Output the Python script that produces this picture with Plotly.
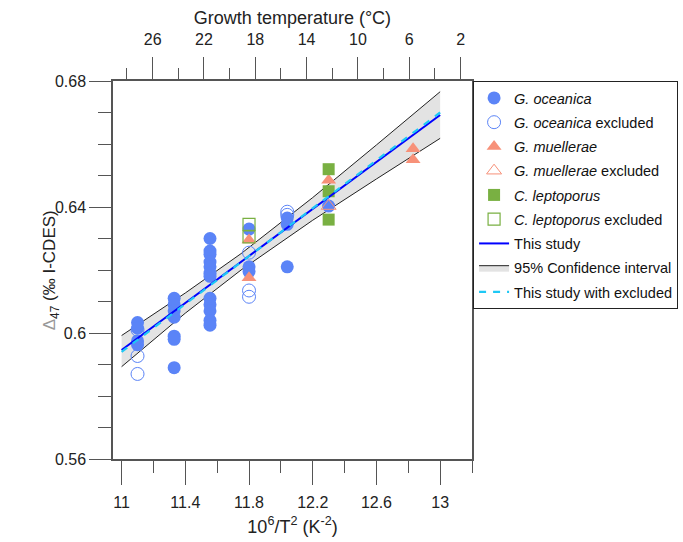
import plotly.graph_objects as go

# ---------------- data ----------------
ocean_x = [11.1, 11.1, 11.1, 11.1,
           11.33, 11.33, 11.33, 11.33, 11.33, 11.33, 11.33,
           11.555, 11.555, 11.555, 11.555, 11.555, 11.555, 11.555, 11.555, 11.555, 11.555, 11.555, 11.555,
           11.8, 11.8, 11.8,
           12.04, 12.04, 12.04,
           12.3]
ocean_y = [0.6033, 0.6015, 0.5975, 0.5963,
           0.611, 0.609, 0.607, 0.605, 0.599, 0.598, 0.589,
           0.630, 0.626, 0.625, 0.6225, 0.621, 0.619, 0.618, 0.611, 0.609, 0.607, 0.604, 0.6025,
           0.633, 0.621, 0.6195,
           0.6365, 0.6345, 0.621,
           0.6403]

ocean_ex_x = [11.1, 11.1, 11.1, 11.8, 11.8, 11.8, 12.04, 12.04]
ocean_ex_y = [0.601, 0.5927, 0.587, 0.6255, 0.6135, 0.6115, 0.6385, 0.6375]

muel_x = [11.8, 11.8, 12.3, 12.83, 12.83]
muel_y = [0.6295, 0.6175, 0.6485, 0.6585, 0.655]

muel_ex_x = [12.3]
muel_ex_y = [0.6403]

lepto_x = [12.3, 12.3, 12.3]
lepto_y = [0.652, 0.645, 0.636]

lepto_ex_x = [11.8, 11.8]
lepto_ex_y = [0.6345, 0.6305]

fit_x = [11.0, 13.0]
fit_y = [0.5946, 0.6692]
fit_ex_y = [0.5940, 0.6700]

band_x = [11.0, 11.4, 11.75, 12.2, 12.6, 13.0]
band_lo = [0.5893, 0.6063, 0.6200, 0.6358, 0.6489, 0.6618]
band_hi = [0.5992, 0.6127, 0.6252, 0.6430, 0.6597, 0.6766]

x_tickvals = [11, 11.4, 11.8, 12.2, 12.6, 13]
x_ticktext = ["11", "11.4", "11.8", "12.2", "12.6", "13"]
y_tickvals = [0.56, 0.60, 0.64, 0.68]
y_ticktext = ["0.56", "0.6", "0.64", "0.68"]
temp_tickvals = [26, 22, 18, 14, 10, 6, 2]

# ---------------- styles ----------------
BLUE = "#5b84f7"
ORANGE = "#f79179"
GREEN = "#79b042"
FONT = "Liberation Sans, Arial, sans-serif"
AX = "#555555"

fig = go.Figure()

# confidence band
fig.add_trace(go.Scatter(x=band_x, y=band_lo, mode="lines",
                         line=dict(color="#222222", width=1), legendgroup="g8",
                         showlegend=False, hoverinfo="skip", legendrank=8))
fig.add_trace(go.Scatter(x=band_x, y=band_hi, mode="lines", fill="tonexty",
                         fillcolor="#e3e3e3", line=dict(color="#222222", width=1),
                         legendgroup="g8",
                         name="95% Confidence interval", legendrank=8))

# markers
fig.add_trace(go.Scatter(x=ocean_x, y=ocean_y, mode="markers", name="<i>G. oceanica</i>",
                         legendgroup="g1",
                         marker=dict(symbol="circle", size=13, color=BLUE), legendrank=1))
fig.add_trace(go.Scatter(x=ocean_ex_x, y=ocean_ex_y, mode="markers",
                         name="<i>G. oceanica</i> excluded", legendgroup="g2",
                         marker=dict(symbol="circle-open", size=13, color=BLUE,
                                     line=dict(width=1)), legendrank=2))
fig.add_trace(go.Scatter(x=muel_x, y=muel_y, mode="markers", name="<i>G. muellerae</i>",
                         legendgroup="g3",
                         marker=dict(symbol="triangle-up", size=13, color=ORANGE), legendrank=3))
fig.add_trace(go.Scatter(x=muel_ex_x, y=muel_ex_y, mode="markers",
                         name="<i>G. muellerae</i> excluded", legendgroup="g4",
                         marker=dict(symbol="triangle-up-open", size=13, color=ORANGE,
                                     line=dict(width=1)), legendrank=4))
fig.add_trace(go.Scatter(x=lepto_x, y=lepto_y, mode="markers", name="<i>C. leptoporus</i>",
                         legendgroup="g5",
                         marker=dict(symbol="square", size=12, color=GREEN), legendrank=5))
fig.add_trace(go.Scatter(x=lepto_ex_x, y=lepto_ex_y, mode="markers",
                         name="<i>C. leptoporus</i> excluded", legendgroup="g6",
                         marker=dict(symbol="square-open", size=12, color=GREEN,
                                     line=dict(width=1.2)), legendrank=6))

# regression lines
fig.add_trace(go.Scatter(x=fit_x, y=fit_y, mode="lines", name="This study",
                         legendgroup="g7",
                         line=dict(color="#0000ff", width=2), legendrank=7))
fig.add_trace(go.Scatter(x=fit_x, y=fit_ex_y, mode="lines", name="This study with excluded",
                         legendgroup="g9",
                         line=dict(color="#1ec8f5", width=2.2, dash="7px,7px"), legendrank=9))

# invisible trace to activate the top temperature axis
fig.add_trace(go.Scatter(x=[29, 1], y=[0.5, 0.5], xaxis="x2", mode="markers",
                         marker=dict(opacity=0), showlegend=False, hoverinfo="skip"))

fig.update_layout(
    width=683, height=542,
    margin=dict(l=113, r=211, t=81, b=83, autoexpand=False),
    paper_bgcolor="white", plot_bgcolor="white",
    font=dict(family=FONT, size=16, color="#222222"),
    showlegend=True,
    legend=dict(x=1.003, y=1.0, xanchor="left", yanchor="top",
                bordercolor="#222222", borderwidth=1, bgcolor="white",
                font=dict(family=FONT, size=14.5, color="#111111"),
                traceorder="grouped", tracegroupgap=2.4, itemwidth=30),
    xaxis=dict(range=[10.946, 13.2], tickmode="array", tickvals=x_tickvals,
               ticktext=x_ticktext, ticks="outside", ticklen=24, tickwidth=1,
               tickcolor=AX, showline=True, linecolor=AX, linewidth=1.5,
               showgrid=False, zeroline=False, automargin=False,
               ticklabelstandoff=4,
               minor=dict(tickmode="linear", tick0=11, dtick=0.2, ticks="outside",
                          ticklen=12, tickcolor=AX, tickwidth=1, showgrid=False),
               title=dict(text="10<sup>6</sup>/T<sup>2</sup> (K<sup>-2</sup>)",
                          font=dict(size=18), standoff=10)),
    xaxis2=dict(overlaying="x", side="top", range=[29.09, 1.11], tickmode="array",
                tickvals=temp_tickvals, ticks="outside", ticklen=22, tickwidth=1,
                tickcolor=AX, showline=True, linecolor=AX, linewidth=1.5,
                showgrid=False, zeroline=False, automargin=False,
                ticklabelstandoff=6,
                minor=dict(tickmode="linear", tick0=2, dtick=2, ticks="outside",
                           ticklen=11, tickcolor=AX, tickwidth=1, showgrid=False),
                title=dict(text="Growth temperature (°C)", font=dict(size=18), standoff=2)),
    yaxis=dict(range=[0.56, 0.68], tickmode="array", tickvals=y_tickvals,
               ticktext=y_ticktext, ticks="outside", ticklen=22, tickwidth=1,
               tickcolor=AX, showline=True, linecolor=AX, linewidth=1.5, mirror=True,
               showgrid=False, zeroline=False, automargin=False,
               minor=dict(tickmode="linear", tick0=0.56, dtick=0.01, ticks="outside",
                          ticklen=13, tickcolor=AX, tickwidth=1, showgrid=False)),
    annotations=[dict(text="<span style='color:#999999'>Δ</span><sub>47</sub> (‰ I-CDES)",
                      xref="paper", yref="paper", x=-0.172, y=0.5, xanchor="center",
                      yanchor="middle", textangle=-90, showarrow=False,
                      font=dict(family=FONT, size=17, color="#222222"))],
)

fig.write_html("out.html", post_script="document.body.style.margin='0px';",
               config={"displayModeBar": False})
